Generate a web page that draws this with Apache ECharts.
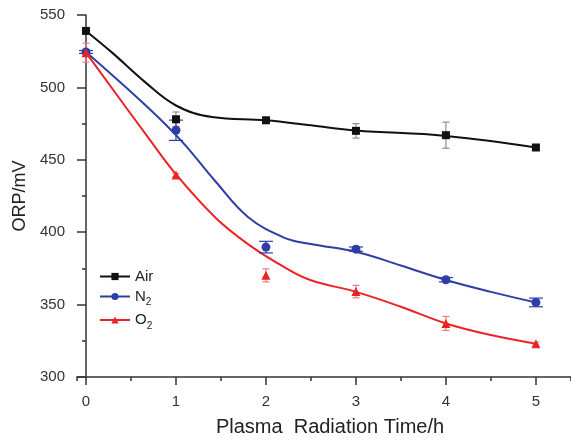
<!DOCTYPE html>
<html>
<head>
<meta charset="utf-8">
<script src="https://cdn.jsdelivr.net/npm/echarts@6/dist/echarts.min.js"></script>
<style>
  html, body { margin: 0; padding: 0; background: #fff; }
  #chart { width: 571px; height: 442px; }
</style>
</head>
<body>
<div id="chart"></div>
<script>
// ---- data ----
const timeH = [0, 1, 2, 3, 4, 5];
const airORP = [539, 478, 477.3, 470, 467, 458.5];
const airErr = [0.5, 5, 1, 5, 9, 1];
const n2ORP = [524.5, 470.4, 389.7, 388.3, 367.2, 351.5];
const n2Err = [1, 7, 4, 1.5, 1.5, 3];
const o2ORP = [524, 439.5, 370.2, 359, 337, 323];
const o2Err = [6.5, 1, 4.5, 4.3, 4.8, 1];

// fitted curves
const airFitX = [0, 0.3, 0.65, 1, 1.4, 2, 2.5, 3, 4, 5];
const airFitY = [539, 523.5, 504, 487.5, 479.5, 477.3, 473.8, 470.2, 466.5, 458.5];
const n2FitX = [0, 0.7, 1.07, 1.44, 1.8, 2.2, 2.5, 3, 3.5, 4, 4.5, 5];
const n2FitY = [524.5, 485.5, 462.4, 435, 410.5, 396.3, 391.8, 386.5, 377, 367, 358.8, 351.5];
const o2FitX = [0, 0.7, 1, 1.44, 1.8, 2.2, 2.5, 3, 3.5, 4, 4.5, 5];
const o2FitY = [524, 464.6, 440, 410, 391.8, 376, 366.8, 358.8, 348.5, 337, 329, 323];

const seriesNames = ['Air', 'N2', 'O2'];
const yTicks = [300, 350, 400, 450, 500, 550];

const FONT = 'Liberation Sans, Arial, sans-serif';
const C_AIR = '#111111', C_N2 = '#2f3ea6', C_O2 = '#ec2326';
const E_AIR = '#8c8c8c', E_N2 = '#2f3ea6', E_O2 = '#f07c7c';

function zip(xs, ys) { return xs.map((x, i) => [x, ys[i]]); }

function errSeries(vals, errs, color, capHalf) {
  return {
    type: 'custom',
    xAxisIndex: 0, yAxisIndex: 0,
    z: 3,
    silent: true,
    data: timeH.map((x, i) => [x, vals[i] - errs[i], vals[i] + errs[i]]),
    renderItem: function (params, api) {
      const lo = api.coord([api.value(0), api.value(1)]);
      const hi = api.coord([api.value(0), api.value(2)]);
      const st = { stroke: color, lineWidth: 1.2 };
      return {
        type: 'group',
        children: [
          { type: 'line', shape: { x1: lo[0], y1: lo[1], x2: hi[0], y2: hi[1] }, style: st },
          { type: 'line', shape: { x1: lo[0] - capHalf, y1: lo[1], x2: lo[0] + capHalf, y2: lo[1] }, style: st },
          { type: 'line', shape: { x1: hi[0] - capHalf, y1: hi[1], x2: hi[0] + capHalf, y2: hi[1] }, style: st }
        ]
      };
    }
  };
}

function fitSeries(name, xs, ys, color, symbol, size) {
  return {
    name: name, type: 'line', smooth: 0.4,
    data: zip(xs, ys), symbol: symbol, symbolSize: size, showSymbol: false,
    lineStyle: { color: color, width: 2 }, itemStyle: { color: color },
    z: 2, silent: true
  };
}

function markSeries(vals, color, symbol, size) {
  return {
    type: 'scatter', data: zip(timeH, vals), symbol: symbol, symbolSize: size,
    itemStyle: { color: color, opacity: 1 }, z: 4, silent: true
  };
}

const chart = echarts.init(document.getElementById('chart'), null, { renderer: 'canvas' });
const axisLineStyle = { color: '#333', width: 1.5 };
chart.setOption({
  animation: false,
  backgroundColor: '#fff',
  textStyle: { fontFamily: FONT },
  grid: { left: 77, right: 0, top: 15, bottom: 60.3, containLabel: false },
  legend: {
    orient: 'vertical', left: 99, top: 269, padding: 0,
    itemWidth: 30, itemHeight: 9, itemGap: 5,
    data: seriesNames,
    textStyle: {
      fontFamily: FONT, fontSize: 15, color: '#222',
      rich: {
        b: { fontFamily: FONT, fontSize: 15, color: '#222' },
        s: { fontFamily: FONT, fontSize: 10, color: '#222', padding: [12, 0, 0, 0] }
      }
    },
    formatter: function (n) {
      if (n === 'Air') return '{b|Air}';
      return '{b|' + n.charAt(0) + '}{s|' + n.slice(1) + '}';
    }
  },
  xAxis: [
    {
      type: 'value', min: -0.1, max: 5.39, splitNumber: 5,
      name: 'Plasma  Radiation Time/h', nameLocation: 'middle', nameGap: 40,
      nameTextStyle: { fontFamily: FONT, fontSize: 20, color: '#222', padding: [0, 0, 0, 12] },
      axisLine: { lineStyle: axisLineStyle },
      axisTick: { show: true, length: 8, lineStyle: { color: '#333', width: 1.5 } },
      axisLabel: { showMinLabel: false, showMaxLabel: false, fontFamily: FONT, fontSize: 15, color: '#333', margin: 17 },
      splitLine: { show: false }
    },
    {
      type: 'value', min: -0.1, max: 5.39, splitNumber: 11, position: 'bottom',
      axisLine: { show: false },
      axisTick: { show: true, length: 4, lineStyle: { color: '#333', width: 1.5 } },
      axisLabel: { show: false },
      splitLine: { show: false }
    }
  ],
  yAxis: {
    type: 'value', min: yTicks[0], max: yTicks[yTicks.length - 1], interval: 50,
    name: 'ORP/mV', nameLocation: 'middle', nameGap: 48,
    nameTextStyle: { fontFamily: FONT, fontSize: 18, color: '#222' },
    axisLine: { show: true, lineStyle: axisLineStyle },
    axisTick: { show: true, length: 9, lineStyle: { color: '#333', width: 1.5 } },
    minorTick: { show: true, splitNumber: 2, length: 4, lineStyle: { color: '#333', width: 1.5 } },
    axisLabel: { fontFamily: FONT, fontSize: 15, color: '#333', margin: 12 },
    splitLine: { show: false }
  },
  series: [
    fitSeries('Air', airFitX, airFitY, C_AIR, 'rect', 7),
    fitSeries('N2', n2FitX, n2FitY, C_N2, 'circle', 9),
    fitSeries('O2', o2FitX, o2FitY, C_O2, 'triangle', 9),
    errSeries(airORP, airErr, E_AIR, 3.5),
    errSeries(n2ORP, n2Err, E_N2, 7),
    errSeries(o2ORP, o2Err, E_O2, 3.5),
    markSeries(airORP, C_AIR, 'rect', 8),
    markSeries(n2ORP, C_N2, 'circle', 9),
    markSeries(o2ORP, C_O2, 'triangle', 9)
  ]
});
</script>
</body>
</html>
